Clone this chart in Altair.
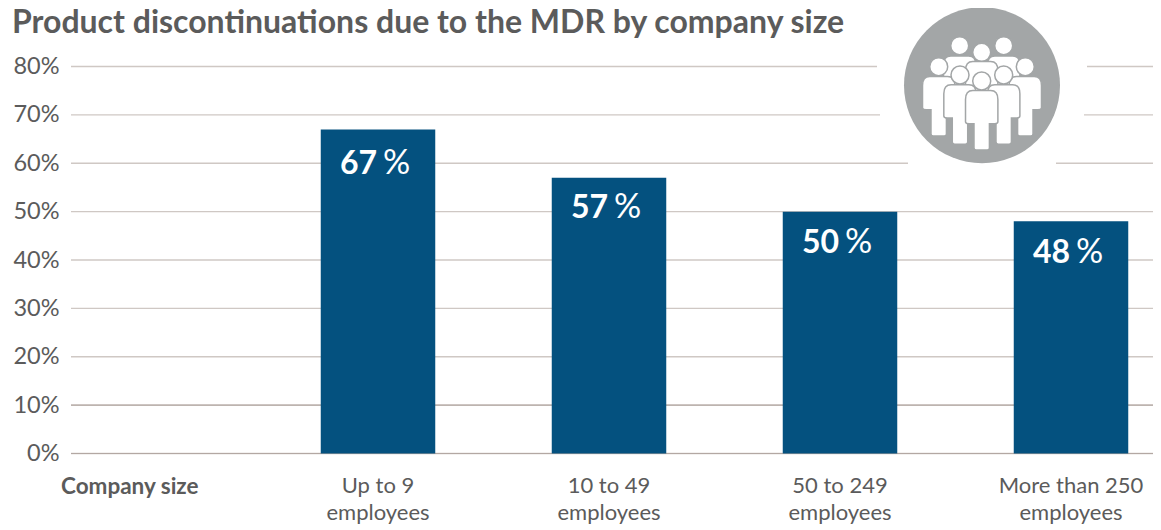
import altair as alt
import pandas as pd

categories = ["Up to 9|employees", "10 to 49|employees", "50 to 249|employees", "More than 250|employees"]
values = [67, 57, 50, 48]
ticks = [0, 10, 20, 30, 40, 50, 60, 70, 80]
title_text = "Product discontinuations due to the MDR by company size"
side_label = "Company size"

FONT = "Lato"
TEXT = "#5b5b5b"
GREY = "#a3a6a7"
X0, Y0 = 71, 66.5  # page position of the plot origin

df = pd.DataFrame({"cat": categories, "val": values})
tick_df = pd.DataFrame({"val": ticks})
one = alt.Chart(pd.DataFrame({"a": [0]}))

x_enc = alt.X(
    "cat:N", sort=categories,
    scale=alt.Scale(domain=categories, range=[191.5, 1115.5], paddingInner=0.505, paddingOuter=0.2525),
    axis=alt.Axis(title=None, ticks=False, domain=False, labelAngle=0, labelExpr="split(datum.value,'|')",
                  labelFontSize=22, labelFont=FONT, labelColor=TEXT, labelPadding=22, labelLineHeight=27,
                  labelBaseline="top", grid=False),
)
y_enc = alt.Y(
    "val:Q",
    scale=alt.Scale(domain=[0, 80], nice=False),
    axis=alt.Axis(title=None, values=ticks, ticks=False, domain=False, labelExpr="datum.value + '%'",
                  labelFontSize=23.5, labelFont=FONT, labelColor=TEXT, labelPadding=12, grid=False),
)

# gridlines run across the whole plot
grid = alt.Chart(tick_df).mark_rule(strokeWidth=1.4, color="#cfc8c4").encode(
    x=alt.value(0), x2=alt.value(1161 - X0), y=y_enc)
zero = alt.Chart(tick_df[tick_df.val <= 10]).mark_rule(strokeWidth=1.2, color="#b3a8a3").encode(
    x=alt.value(0), x2=alt.value(1161 - X0), y=alt.Y("val:Q"))

bars = alt.Chart(df).mark_bar(size=114.5, color="#04517f").encode(x=x_enc, y=alt.Y("val:Q"))

layers = [grid, zero, bars]

# breaks in the gridlines around the icon
for tick, a, b in [(80, 877, 1087), (70, 880, 1084), (60, 908, 1056)]:
    layers.append(one.mark_rule(color="white", strokeWidth=5).encode(
        x=alt.value(a - X0), x2=alt.value(b - X0), y=alt.YDatum(tick, type="quantitative")))

# bar labels
for i, dy in enumerate([35, 30, 31, 32]):
    row = df.iloc[[i]]
    layers.append(alt.Chart(row).transform_calculate(t="datum.val").mark_text(
        font=FONT, fontWeight="bold", fontSize=32, color="white", align="right", dx=-1, dy=dy
    ).encode(x=alt.X("cat:N", sort=categories), y=alt.Y("val:Q"), text="t:N"))
    layers.append(alt.Chart(row).transform_calculate(t="'%'").mark_text(
        font=FONT, fontSize=34, color="white", align="left", dx=5, dy=dy
    ).encode(x=alt.X("cat:N", sort=categories), y=alt.Y("val:Q"), text="t:N"))

# title and row label
layers.append(one.transform_calculate(t=f"'{title_text}'").mark_text(
    font=FONT, fontWeight="bold", fontSize=32, color=TEXT, align="left", baseline="alphabetic"
).encode(x=alt.value(12 - X0), y=alt.value(33 - Y0), text="t:N"))
layers.append(one.transform_calculate(t=f"'{side_label}'").mark_text(
    font=FONT, fontWeight="bold", fontSize=22.5, color=TEXT, align="left", baseline="middle"
).encode(x=alt.value(61 - X0), y=alt.value(487 - Y0), text="t:N"))

# people icon
layers.append(one.mark_point(shape="circle", filled=True, size=156 ** 2, color=GREY, opacity=1).encode(
    x=alt.value(982 - X0), y=alt.value(85.3 - Y0)))

BODY = ("M-0.3,-1 L0.3,-1 Q0.545,-1 0.545,-0.7 L0.545,0.05 Q0.545,0.12 0.42,0.12 L0.26,0.12 L0.26,0.93 "
        "Q0.26,1 0.18,1 L-0.18,1 Q-0.26,1 -0.26,0.93 L-0.26,0.12 L-0.42,0.12 Q-0.545,0.12 -0.545,0.05 "
        "L-0.545,-0.7 Q-0.545,-1 -0.3,-1 Z")
people = [  # head x, head y, body y, back to front
    (959.7, 45.7, 85.7), (1003.7, 45.7, 85.7), (981.7, 52.3, 91.3),
    (938.7, 66.7, 106.3), (1025.3, 66.7, 106.3),
    (960, 75, 114.5), (1003.7, 75, 114.5),
    (981.7, 81, 120.3),
]
for hx, hy, by in people:
    layers.append(one.mark_point(shape=BODY, filled=True, size=59.4 ** 2, fill="white", stroke=GREY,
                                 strokeWidth=1.5, opacity=1).encode(
        x=alt.value(hx - X0), y=alt.value(by - Y0)))
    layers.append(one.mark_point(shape="circle", filled=True, size=18 ** 2, fill="white", stroke=GREY,
                                 strokeWidth=1.5, opacity=1).encode(
        x=alt.value(hx - X0), y=alt.value(hy - Y0)))

chart = alt.layer(*layers).properties(
    width=1082, height=387,
    padding={"left": X0 - 8, "top": Y0 - 8, "right": 0, "bottom": 76},
    autosize=alt.AutoSizeParams(type="none"),
).configure_view(stroke=None)

chart.save("out.html", embed_options={"renderer": "svg", "actions": False})
